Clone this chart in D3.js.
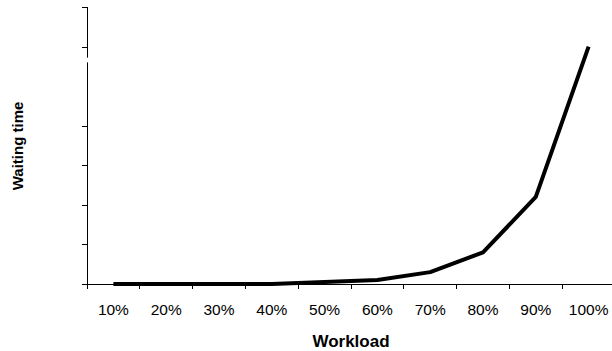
<!DOCTYPE html>
<html><head><meta charset="utf-8">
<script src="https://cdn.jsdelivr.net/npm/d3@7"></script>
<style>body{margin:0;background:#fff}svg{display:block}</style>
</head><body>
<script>
const categories = ["10%","20%","30%","40%","50%","60%","70%","80%","90%","100%"];
const waitingTime = [0, 0, 0, 0, 0.05, 0.1, 0.3, 0.8, 2.2, 6.0];
const yTicks = [0, 1, 2, 3, 4, 6, 7];
const yBreak = [5.6, 5.72];

const W = 612, H = 351;
const m = {left: 87, right: -3, top: 7, bottom: 67};
const svg = d3.select("body").append("svg").attr("width", W).attr("height", H);
const x = d3.scaleBand().domain(categories).range([m.left, W - m.right]);
const y = d3.scaleLinear().domain([0, 7]).range([H - m.bottom, m.top]);
const font = "Liberation Sans, Arial, sans-serif";

// y axis
const ya = svg.append("g").attr("transform", `translate(${m.left},0)`)
  .call(d3.axisLeft(y).tickValues(yTicks).tickSize(5).tickFormat(""));
ya.selectAll("path,line").attr("stroke", "#000").attr("shape-rendering", "crispEdges");
ya.select(".domain").attr("d", `M-0,${y(7)}V${y(0)}`);
// axis break
svg.append("rect").attr("x", m.left - 3).attr("y", y(yBreak[1])).attr("width", 6)
  .attr("height", y(yBreak[0]) - y(yBreak[1])).attr("fill", "#fff");

// x axis
const xa = svg.append("g").attr("transform", `translate(0,${y(0)})`);
xa.append("line").attr("x1", m.left).attr("x2", W).attr("y1", 0).attr("y2", 0)
  .attr("stroke", "#000").attr("shape-rendering", "crispEdges");
xa.selectAll("line.tk").data(categories).enter().append("line").attr("class", "tk")
  .attr("x1", d => x(d)).attr("x2", d => x(d)).attr("y1", 0).attr("y2", 5)
  .attr("stroke", "#000").attr("shape-rendering", "crispEdges");
xa.selectAll("text").data(categories).enter().append("text")
  .attr("x", d => x(d) + x.bandwidth() / 2).attr("y", 31)
  .attr("text-anchor", "middle").attr("font-family", font)
  .attr("font-size", 15.5).attr("fill", "#000").text(d => d);

// line
const line = d3.line().x((d, i) => x(categories[i]) + x.bandwidth() / 2).y(d => y(d));
svg.append("path").datum(waitingTime).attr("d", line).attr("fill", "none")
  .attr("stroke", "#000").attr("stroke-width", 4).attr("stroke-linejoin", "round");

// titles
svg.append("text").attr("x", 351).attr("y", 347).attr("text-anchor", "middle")
  .attr("font-family", font).attr("font-weight", "bold")
  .attr("font-size", 17).text("Workload");
svg.append("text").attr("transform", `translate(23,146) rotate(-90)`)
  .attr("text-anchor", "middle").attr("font-family", font)
  .attr("font-weight", "bold").attr("font-size", 15).text("Waiting time");
</script>
</body></html>
